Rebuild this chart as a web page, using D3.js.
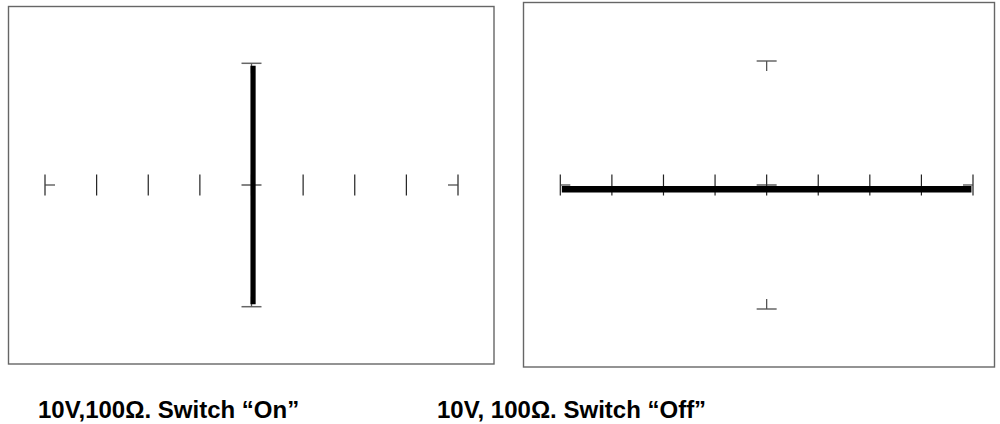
<!DOCTYPE html>
<html><head><meta charset="utf-8">
<script src="https://cdn.jsdelivr.net/npm/d3@7"></script>
<style>html,body{margin:0;padding:0;background:#fff;}svg{display:block;}</style>
</head><body>
<script>
// ---- data ----
const divisions = [-4, -3, -2, -1, 0, 1, 2, 3, 4];
const vMarks = [-1, 1];
const labels = ["10V,100\u03A9. Switch \u201COn\u201D", "10V, 100\u03A9. Switch \u201COff\u201D"];
const traceOnX = [0.03, 0.03];
const traceOnY = [0.98, -0.98];
const traceOffX = [-3.97, 3.97];
const traceOffY = [-0.035, -0.035];

const W = 1000, H = 424;
const svg = d3.select("body").append("svg").attr("width", W).attr("height", H);

const panels = [
  {frame: [8.5, 6.5, 485.5, 357.5], xr: [45, 458], yr: [306.7, 63.3], tx: traceOnX, ty: traceOnY, tw: 5.2,
   label: labels[0], lx: 38, ly: 418},
  {frame: [523.5, 2.5, 471, 364.5], xr: [560.3, 973], yr: [309, 61], tx: traceOffX, ty: traceOffY, tw: 6.5,
   label: labels[1], lx: 437, ly: 418}
];

panels.forEach(p => {
  const g = svg.append("g");
  const x = d3.scaleLinear().domain([-4, 4]).range(p.xr);
  const y = d3.scaleLinear().domain([-1, 1]).range(p.yr);
  const y0 = y(0), x0 = x(0);
  g.append("rect").attr("x", p.frame[0]).attr("y", p.frame[1]).attr("width", p.frame[2]).attr("height", p.frame[3])
    .attr("fill", "none").attr("stroke", "#666").attr("stroke-width", 1.4);
  // division ticks on horizontal axis
  g.selectAll(".dt").data(divisions).join("line")
    .attr("x1", d => x(d)).attr("x2", d => x(d)).attr("y1", y0 - 10.5).attr("y2", y0 + 10.5)
    .attr("stroke", "#222").attr("stroke-width", 1.2);
  // end stubs
  g.selectAll(".es").data([-4, 4]).join("line")
    .attr("x1", d => x(d)).attr("x2", d => x(d) - Math.sign(d) * 10).attr("y1", y0).attr("y2", y0)
    .attr("stroke", "#444").attr("stroke-width", 1.2);
  // center cross
  g.append("line").attr("x1", x0 - 10).attr("x2", x0 + 10).attr("y1", y0).attr("y2", y0)
    .attr("stroke", "#333").attr("stroke-width", 1.2);
  // vertical axis end marks
  g.selectAll(".vc").data(vMarks).join("line")
    .attr("x1", x0 - 10).attr("x2", x0 + 10).attr("y1", d => y(d)).attr("y2", d => y(d))
    .attr("stroke", "#666").attr("stroke-width", 1.5);
  g.selectAll(".vs").data(vMarks).join("line")
    .attr("x1", x0).attr("x2", x0).attr("y1", d => y(d)).attr("y2", d => y(d) + Math.sign(d) * 10)
    .attr("stroke", "#555").attr("stroke-width", 1.3);
  // trace
  const line = d3.line().x((d, i) => x(p.tx[i])).y((d, i) => y(p.ty[i]));
  g.append("path").attr("d", line(p.tx)).attr("fill", "none").attr("stroke", "#000")
    .attr("stroke-width", p.tw).attr("stroke-linecap", "butt");
  svg.append("text").attr("x", p.lx).attr("y", p.ly).text(p.label)
    .attr("font-family", "Liberation Sans, Arial, sans-serif").attr("font-weight", "bold")
    .attr("font-size", 24).attr("fill", "#000");
});
</script>
</body></html>
